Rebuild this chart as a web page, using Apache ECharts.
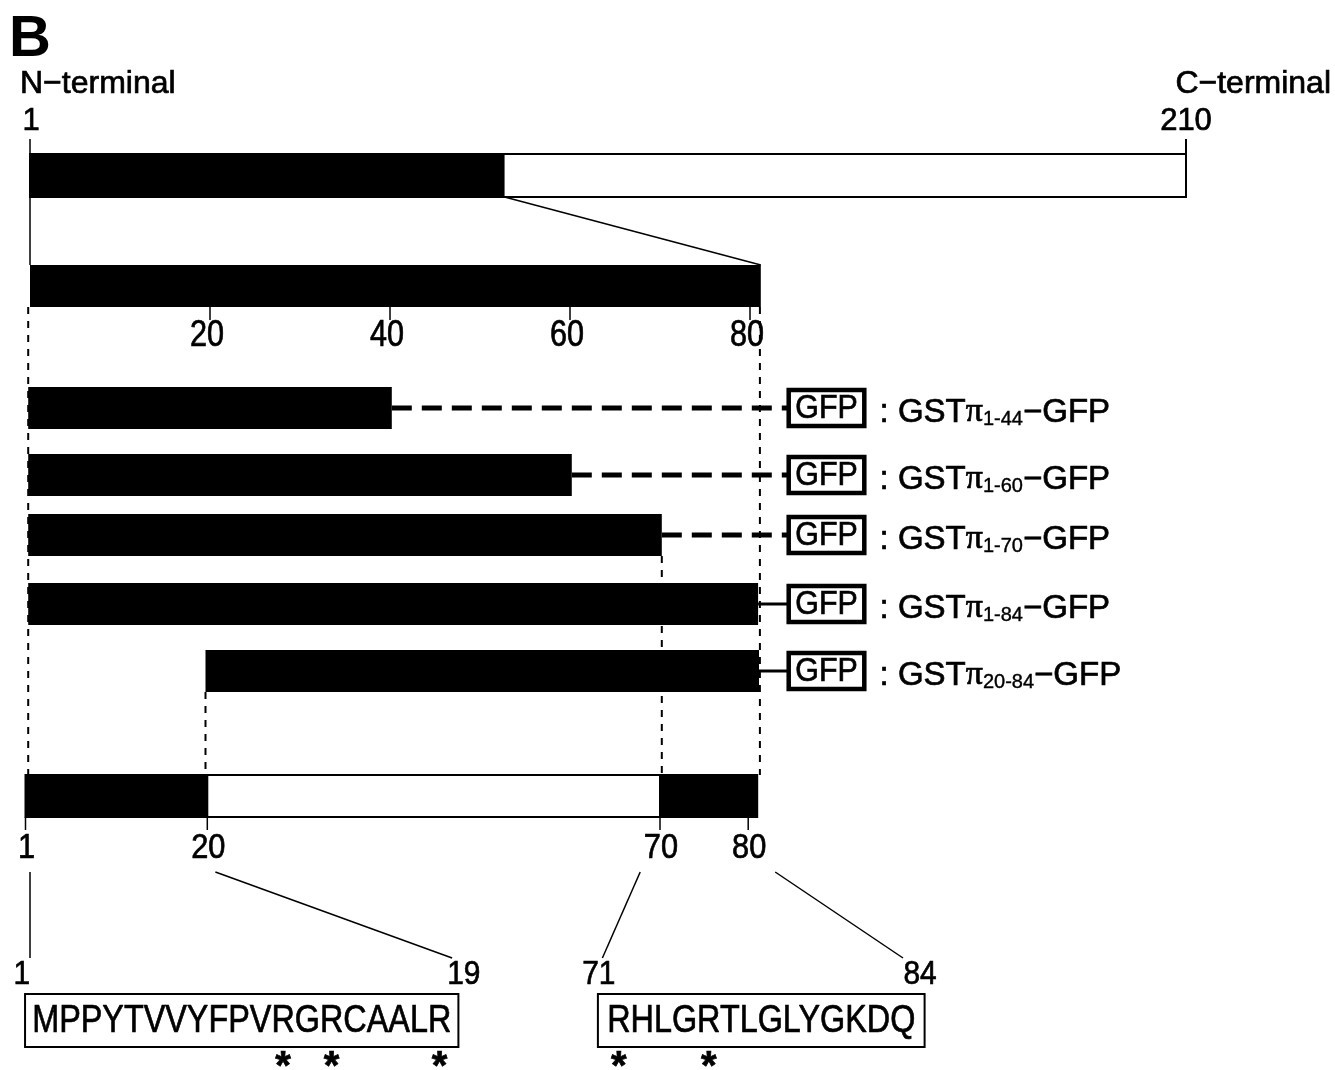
<!DOCTYPE html>
<html>
<head>
<meta charset="utf-8">
<title>GSTπ deletion constructs</title>
<script src="https://cdn.jsdelivr.net/npm/echarts@6/dist/echarts.min.js"></script>
<style>
  html, body { margin: 0; padding: 0; background: #fff; }
  #chart { width: 1335px; height: 1070px; }
</style>
</head>
<body>
<div id="chart"></div>
<script>
// ---- data (residue positions as drawn on the figure) ----
const fullLength = 210;
const fullBlackEnd = 86.8;         // N-terminal part shown enlarged below
const zoomTicks = [20, 40, 60, 80];
const zoomBarEnd = 81.2;

const constructNames = ['1-44', '1-60', '1-70', '1-84', '20-84'];
const constructStart = [-0.2, -0.2, -0.2, -0.2, 19.5];
const constructEnd = [40.2, 60.2, 70.2, 80.9, 81.0];
const linkerDashed = [true, true, true, false, false];

const domainLabels = ['1', '20', '70', '80'];
const domainTickPos = [-0.5, 19.7, 70.0, 79.8];
const segStart = [-0.5, 19.7, 70.0];
const segEnd = [19.7, 70.0, 80.8];
const segFilled = [true, false, true];

const seqText = ['MPPYTVVYFPVRGRCAALR', 'RHLGRTLGLYGKDQ'];
const seqFirst = [1, 71];
const seqBoxStart = [-0.55, 63.1];
const seqBoxEnd = [47.6, 99.4];
const seqEdgeLabels = ['1', '19', '71', '84'];
const seqEdgePos = [-0.9, 48.2, 63.2, 98.9];
const calloutFrom = [0, 20.6, 67.8, 82.8];
const calloutTo = [0, 46.9, 63.6, 97.0];
const markedResidues = [12, 14, 19, 71, 75];

// ---- layout ----
const W = 1335, H = 1070;
const PX = 9, X0 = 30;                  // enlarged scale: pixels per residue, pixel of position 0
const FULL_X1 = 30, FULL_X210 = 1186;   // full-length scale
const K = (FULL_X210 - FULL_X1) / (fullLength - 1);
const fullMin = 1 - FULL_X1 / K;
const TOP_BAR = [154, 197];
const ZOOM_BAR = [265, 307];
const ROW_MID = [408, 475, 535, 604, 671];
const ROW_HALF = 21;
const DOMAIN_BAR = [775, 817];
const GFP_FROM = 84.3, GFP_TO = 92.7, LABEL_AT = 94.4;
const CALLOUT_Y = [872, 958];
const SEQ_BOX = [994, 1047];
const FONT = "'Liberation Sans', Arial, Helvetica, sans-serif";
const NUM_FONT = '36px ' + FONT;
const SEQ_FONT = '39px ' + FONT;
const SEQ_SCALE = 0.83;
const INK = 0.7;   // thin outline so the text reads as heavy as the original

function fullPx(r) { return FULL_X1 + (r - 1) * K; }

const measureCtx = document.createElement('canvas').getContext('2d');
function textWidth(str, font) {
  measureCtx.font = font;
  return measureCtx.measureText(str).width;
}

function txt(x, y, text, font, opts) {
  opts = opts || {};
  return {
    type: 'text', x: x, y: y, scaleX: opts.scaleX || 1,
    style: {
      text: text, font: font, fill: '#000', stroke: '#000', lineWidth: INK,
      align: opts.align || 'center', verticalAlign: opts.vAlign || 'middle',
      rich: opts.rich
    }
  };
}
function line(x1, y1, x2, y2, w, dash) {
  return {
    type: 'line', shape: { x1: x1, y1: y1, x2: x2, y2: y2 },
    style: { stroke: '#000', lineWidth: w, lineDash: dash || null }
  };
}
function rect(x1, y1, x2, y2, fill, strokeW) {
  return {
    type: 'rect', shape: { x: x1, y: y1, width: x2 - x1, height: y2 - y1 },
    style: { fill: fill, stroke: strokeW ? '#000' : null, lineWidth: strokeW || 0 }
  };
}

const chart = echarts.init(document.getElementById('chart'));

const option = {
  animation: false,
  backgroundColor: '#fff',
  grid: { left: 0, right: 0, top: 0, bottom: 0 },
  xAxis: [
    { type: 'value', min: -X0 / PX, max: (W - X0) / PX, show: false },
    { type: 'value', min: fullMin, max: fullMin + W / K, show: false }
  ],
  yAxis: { type: 'value', min: 0, max: H, inverse: true, show: false },
  graphic: [
    { type: 'text', left: 9, top: 11, style: { text: 'B', font: 'bold 58px ' + FONT, fill: '#000' } }
  ],
  series: [
    {
      // full-length protein 1-210
      type: 'custom', xAxisIndex: 1, silent: true,
      data: [[1, fullLength, fullBlackEnd]],
      renderItem: function (params, api) {
        const s = api.coord([api.value(0), TOP_BAR[0]]);
        const e = api.coord([api.value(1), TOP_BAR[1]]);
        const k = api.coord([api.value(2), TOP_BAR[1]]);
        return {
          type: 'group', children: [
            rect(s[0], s[1], e[0], e[1], '#fff', 2),
            rect(s[0], s[1], k[0], e[1], '#000'),
            line(s[0], 139, s[0], ZOOM_BAR[0], 1.5),
            line(e[0], 139, e[0], s[1], 2),
            txt(s[0] + 1, 121, '1', '31px ' + FONT),
            txt(e[0], 121, String(api.value(1)), '31px ' + FONT),
            txt(20, 84, 'N−terminal', '32px ' + FONT, { align: 'left' }),
            txt(1331, 84, 'C−terminal', '32px ' + FONT, { align: 'right' })
          ]
        };
      }
    },
    {
      // enlarged N-terminal region
      type: 'custom', xAxisIndex: 0, silent: true,
      data: [[0, zoomBarEnd]],
      renderItem: function (params, api) {
        const s = api.coord([api.value(0), ZOOM_BAR[0]]);
        const e = api.coord([api.value(1), ZOOM_BAR[1]]);
        const children = [
          rect(s[0], s[1], e[0], e[1], '#000'),
          line(fullPx(fullBlackEnd), TOP_BAR[1], e[0], ZOOM_BAR[0], 1.5)
        ];
        zoomTicks.forEach(function (t) {
          const p = api.coord([t, ZOOM_BAR[1]]);
          children.push(line(p[0], ZOOM_BAR[1], p[0], ZOOM_BAR[1] + 13, 1.5));
          children.push(txt(p[0] - 3, 336, String(t), NUM_FONT, { scaleX: 0.85 }));
        });
        return { type: 'group', children: children };
      }
    },
    {
      // dashed guide lines
      type: 'custom', xAxisIndex: 0, silent: true,
      data: [
        [-0.2, ZOOM_BAR[1]],
        [zoomBarEnd - 0.1, ZOOM_BAR[1]],
        [constructEnd[2], ROW_MID[2] + ROW_HALF],
        [constructStart[4], ROW_MID[4] + ROW_HALF]
      ],
      renderItem: function (params, api) {
        const a = api.coord([api.value(0), api.value(1)]);
        return line(a[0], a[1], a[0], DOMAIN_BAR[0], 2, [7, 7]);
      }
    },
    {
      // GFP fusion constructs
      type: 'custom', xAxisIndex: 0, silent: true,
      data: constructNames.map(function (n, i) { return [constructStart[i], constructEnd[i], i]; }),
      renderItem: function (params, api) {
        const i = api.value(2);
        const mid = ROW_MID[i];
        const s = api.coord([api.value(0), mid - ROW_HALF]);
        const e = api.coord([api.value(1), mid + ROW_HALF]);
        const g0 = api.coord([GFP_FROM, mid - 18]);
        const g1 = api.coord([GFP_TO, mid + 18]);
        const lab = api.coord([LABEL_AT, mid]);
        return {
          type: 'group', children: [
            line(e[0], mid, g0[0], mid, linkerDashed[i] ? 5 : 3, linkerDashed[i] ? [20, 10] : null),
            rect(s[0], s[1], e[0], e[1], '#000'),
            rect(g0[0], g0[1], g1[0], g1[1], '#fff', 4.5),
            txt((g0[0] + g1[0]) / 2, mid + 1, 'GFP', '33px ' + FONT, { scaleX: 0.92 }),
            {
              type: 'text', x: lab[0], y: mid + 2,
              style: {
                text: '{m|: GST}{p|π}{s|' + constructNames[i] + '}{m|−GFP}',
                align: 'left', verticalAlign: 'middle', fill: '#000',
                rich: {
                  m: { font: '33px ' + FONT, verticalAlign: 'bottom', lineHeight: 38, textStrokeColor: '#000', textStrokeWidth: INK, stroke: '#000', lineWidth: INK },
                  p: { font: "34px 'Liberation Serif', serif", verticalAlign: 'bottom', lineHeight: 38, stroke: '#000', lineWidth: INK },
                  s: { font: '20px ' + FONT, verticalAlign: 'bottom', lineHeight: 30, stroke: '#000', lineWidth: 0.4 }
                }
              }
            }
          ]
        };
      }
    },
    {
      // region map bar 1-20 / 20-70 / 70-80
      type: 'custom', xAxisIndex: 0, silent: true,
      data: segStart.map(function (s, i) { return [s, segEnd[i], segFilled[i] ? 1 : 0]; }),
      renderItem: function (params, api) {
        const s = api.coord([api.value(0), DOMAIN_BAR[0]]);
        const e = api.coord([api.value(1), DOMAIN_BAR[1]]);
        return rect(s[0], s[1], e[0], e[1], api.value(2) ? '#000' : '#fff', 2);
      }
    },
    {
      type: 'custom', xAxisIndex: 0, silent: true,
      data: domainLabels.map(function (l, i) { return [domainTickPos[i], i]; }),
      renderItem: function (params, api) {
        const p = api.coord([api.value(0), DOMAIN_BAR[1]]);
        return {
          type: 'group', children: [
            line(p[0], DOMAIN_BAR[1], p[0], DOMAIN_BAR[1] + 13, 1.5),
            txt(p[0] + 1, 848, domainLabels[api.value(1)], '35px ' + FONT, { scaleX: 0.88 })
          ]
        };
      }
    },
    {
      // callout lines to the sequences
      type: 'custom', xAxisIndex: 0, silent: true,
      data: calloutFrom.map(function (f, i) { return [f, calloutTo[i]]; }),
      renderItem: function (params, api) {
        const a = api.coord([api.value(0), CALLOUT_Y[0]]);
        const b = api.coord([api.value(1), CALLOUT_Y[1]]);
        return line(a[0], a[1], b[0], b[1], 1.5);
      }
    },
    {
      type: 'custom', xAxisIndex: 0, silent: true,
      data: seqEdgeLabels.map(function (l, i) { return [seqEdgePos[i], i]; }),
      renderItem: function (params, api) {
        const p = api.coord([api.value(0), 975]);
        return txt(p[0], p[1], seqEdgeLabels[api.value(1)], '34px ' + FONT, { scaleX: 0.88 });
      }
    },
    {
      // amino-acid sequences, arginines marked with *
      type: 'custom', xAxisIndex: 0, silent: true,
      data: seqText.map(function (t, i) { return [seqBoxStart[i], seqBoxEnd[i], i]; }),
      renderItem: function (params, api) {
        const i = api.value(2);
        const s = api.coord([api.value(0), SEQ_BOX[0]]);
        const e = api.coord([api.value(1), SEQ_BOX[1]]);
        const seq = seqText[i];
        const w = textWidth(seq, SEQ_FONT) * SEQ_SCALE;
        const left = (s[0] + e[0]) / 2 - w / 2;
        const children = [
          rect(s[0], s[1], e[0], e[1], '#fff', 2),
          txt(left, (s[1] + e[1]) / 2 + 1, seq, SEQ_FONT, { align: 'left', scaleX: SEQ_SCALE })
        ];
        markedResidues.forEach(function (r) {
          const k = r - seqFirst[i];
          if (k < 0 || k >= seq.length) return;
          const cx = left + (textWidth(seq.slice(0, k), SEQ_FONT) + textWidth(seq[k], SEQ_FONT) / 2) * SEQ_SCALE;
          children.push(txt(cx, 1068, '*', 'bold 40px ' + FONT));
        });
        return { type: 'group', children: children };
      }
    }
  ]
};

chart.setOption(option);
</script>
</body>
</html>
